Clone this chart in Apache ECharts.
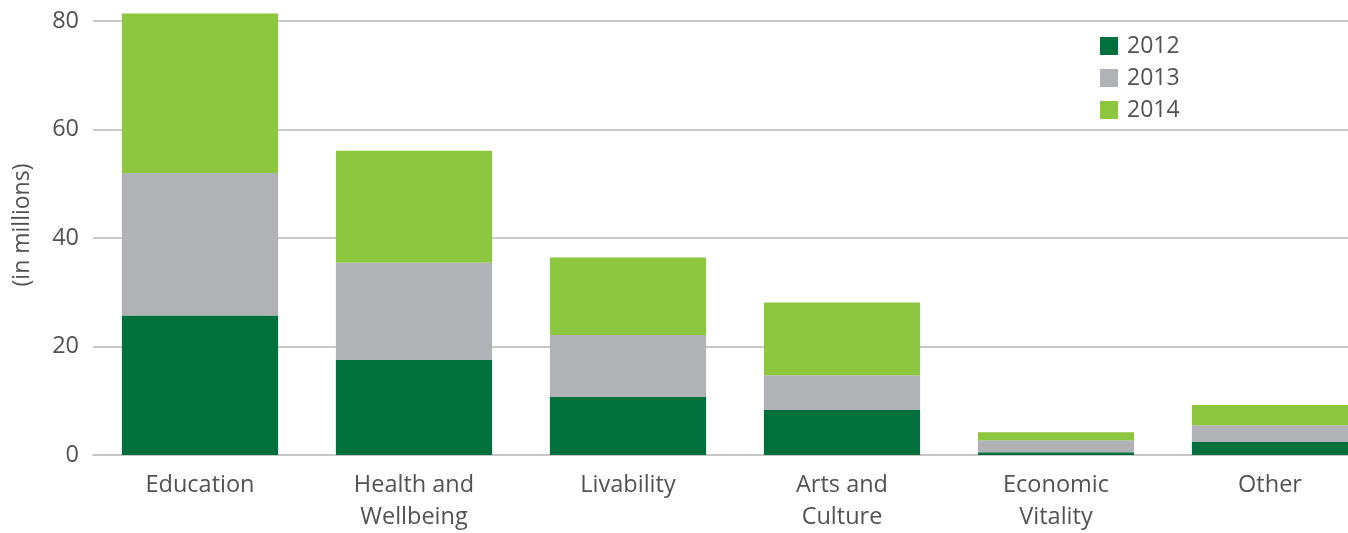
<!DOCTYPE html>
<html><head><meta charset="utf-8">
<script src="https://cdn.jsdelivr.net/npm/echarts@6/dist/echarts.min.js"></script>
<style>html,body{margin:0;padding:0;background:#fff;overflow:hidden;width:1348px;height:533px}#c{width:1384px;height:533px}</style>
</head><body><div id="c"></div>
<script>
const categories = ['Education', 'Health and\nWellbeing', 'Livability', 'Arts and\nCulture', 'Economic\nVitality', 'Other'];
const years = ['2012', '2013', '2014'];
const v2012 = [25.7, 17.5, 10.7, 8.3, 0.5, 2.4];
const v2013 = [26.3, 18.0, 11.4, 6.4, 2.2, 3.1];
const v2014 = [29.4, 20.6, 14.3, 13.4, 1.5, 3.7];
const yTicks = [0, 20, 40, 60, 80];
const yName = '(in millions)';
const colors = ['#00703c', '#b1b2b5', '#8dc63f'];
const font = '"Open Sans", "Noto Sans", sans-serif';
const txt = '#525254';
const chart = echarts.init(document.getElementById('c'), null, {renderer: 'canvas', width: 1384, height: 533});
chart.setOption({
  animation: false,
  textStyle: {fontFamily: font},
  grid: {left: 93, top: 21, width: 1284, height: 435, containLabel: false},
  legend: {
    orient: 'vertical', left: 1095, top: 29, itemWidth: 18, itemHeight: 18, itemGap: 8,
    icon: 'rect', data: years,
    textStyle: {fontFamily: font, fontSize: 23, lineHeight: 24, color: txt, padding: [0, 0, 0, 4]}
  },
  graphic: [{
    type: 'text', x: 22, y: 225, rotation: Math.PI / 2,
    style: {text: yName, font: '23px ' + font, fill: txt, align: 'center', verticalAlign: 'middle'}
  }],
  xAxis: {
    type: 'category', data: categories,
    axisTick: {show: false},
    axisLine: {show: true, lineStyle: {color: '#c8c8c8', width: 2}},
    axisLabel: {fontFamily: font, fontSize: 23.5, color: txt, lineHeight: 32, margin: 14}
  },
  yAxis: {
    type: 'value', min: yTicks[0], max: yTicks[yTicks.length - 1], interval: 20,
    axisLine: {show: false}, axisTick: {show: false},
    axisLabel: {fontFamily: font, fontSize: 23.5, color: txt, margin: 14},
    splitLine: {lineStyle: {color: '#c8c8c8', width: 2}}
  },
  series: [v2012, v2013, v2014].map((d, i) => ({
    name: years[i], type: 'bar', stack: 'total', data: d, clip: false,
    barWidth: '73%', itemStyle: {color: colors[i]}
  }))
});
</script></body></html>
